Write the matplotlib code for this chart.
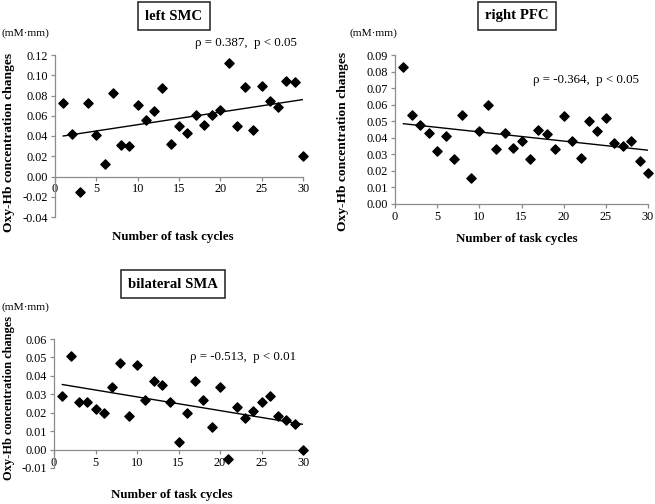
import numpy as np
import matplotlib.pyplot as plt

plt.rcParams['font.family'] = ['Liberation Serif', 'DejaVu Serif']
plt.rcParams['font.size'] = 8.6

# x values: task cycle number
cycles = list(range(1, 31))

# left SMC
smc_vals = [0.073, 0.042, -0.015, 0.073, 0.041, 0.012, 0.082, 0.031, 0.030, 0.071,
            0.056, 0.065, 0.087, 0.032, 0.050, 0.043, 0.061, 0.051, 0.061, 0.066,
            0.112, 0.050, 0.088, 0.046, 0.089, 0.075, 0.069, 0.094, 0.093, 0.020]
smc_trend = [0.040, 0.076]   # trend line value at cycle 1 and cycle 30

# right PFC
pfc_vals = [0.083, 0.054, 0.048, 0.043, 0.032, 0.041, 0.027, 0.054, 0.016, 0.044,
            0.060, 0.033, 0.043, 0.034, 0.038, 0.027, 0.045, 0.042, 0.033, 0.053,
            0.038, 0.028, 0.050, 0.044, 0.052, 0.037, 0.035, 0.038, 0.026, 0.019]
pfc_trend = [0.0485, 0.0325]

# bilateral SMA
sma_vals = [0.029, 0.051, 0.026, 0.026, 0.022, 0.020, 0.034, 0.047, 0.018, 0.046,
            0.027, 0.037, 0.035, 0.026, 0.004, 0.020, 0.037, 0.027, 0.012, 0.034,
            -0.005, 0.023, 0.017, 0.021, 0.026, 0.029, 0.018, 0.016, 0.014, 0.000]
sma_trend = [0.0353, 0.0137]

W, H = 655, 504
fig = plt.figure(figsize=(W / 100, H / 100), dpi=100)


def px_axes(l, r, t, b):
    return fig.add_axes([l / W, 1 - b / H, (r - l) / W, (b - t) / H])


def ftext(x, y, s, **kw):
    fig.text(x / W, 1 - y / H, s, **kw)


def panel(box, vals, trend, ylim, yticks, title, title_xy, stat, stat_xy,
          unit_xy, ylab_xy, xlab_xy, ylab_size=9.7):
    ax = px_axes(*box)
    ax.scatter(cycles, vals, marker='D', s=22, color='black', zorder=3,
               clip_on=False)
    ax.plot([cycles[0], cycles[-1]], trend, color='black', lw=1.0)
    ax.set_xlim(0, 30)
    ax.set_ylim(*ylim)
    ax.set_xticks(range(0, 31, 5))
    ax.set_yticks(yticks)
    ax.set_yticklabels([f'{v:.2f}' for v in yticks])
    for s in ['top', 'right']:
        ax.spines[s].set_visible(False)
    ax.spines['bottom'].set_position(('data', 0))
    for s in ['left', 'bottom']:
        ax.spines[s].set_color('#8c8c8c')
        ax.spines[s].set_linewidth(0.9)
    ax.tick_params(axis='both', colors='#8c8c8c', labelcolor='black',
                   length=3, width=0.9, labelsize=8.8, pad=2)
    ftext(*title_xy, title, ha='center', va='center', fontsize=10.6,
          fontweight='bold',
          bbox=dict(boxstyle='square,pad=0.5', fc='white', ec='#303030', lw=1.2))
    ftext(*stat_xy, stat, ha='left', va='center', fontsize=9.3)
    ftext(*unit_xy, '(mM·mm)', ha='left', va='center', fontsize=8.2)
    ftext(*ylab_xy, 'Oxy-Hb concentration changes', ha='center', va='center',
          rotation=90, fontsize=ylab_size, fontweight='bold')
    ftext(*xlab_xy, 'Number of task cycles', ha='center', va='center',
          fontsize=9.3, fontweight='bold')
    return ax


panel((55, 303, 55, 217), smc_vals, smc_trend, (-0.04, 0.12),
      np.round(np.arange(-0.04, 0.121, 0.02), 2), 'left SMC', (174, 16),
      'ρ = 0.387,  p < 0.05', (195, 43), (2, 33), (9, 142), (173, 237))

panel((395, 648, 55, 204), pfc_vals, pfc_trend, (0, 0.09),
      np.round(np.arange(0, 0.091, 0.01), 2), 'right PFC', (517, 16),
      'ρ = -0.364,  p < 0.05', (533, 80), (350, 33), (343, 141), (517, 239))

panel((54, 303, 339, 468), sma_vals, sma_trend, (-0.01, 0.06),
      np.round(np.arange(-0.01, 0.061, 0.01), 2), 'bilateral SMA', (173, 284),
      'ρ = -0.513,  p < 0.01', (190, 357), (2, 307), (9, 398), (172, 495),
      ylab_size=8.9)

fig.savefig('out.png', dpi=100, facecolor='white')
